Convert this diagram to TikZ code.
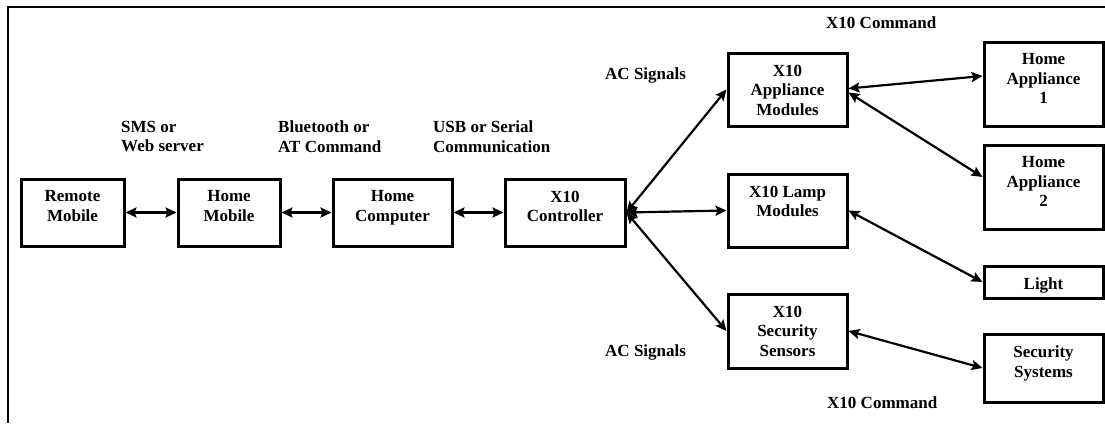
\documentclass[tikz,border=0pt]{standalone}
\usepackage{fontspec}
\setmainfont{Liberation Serif}
\usetikzlibrary{arrows.meta}
\begin{document}
\begin{tikzpicture}[x=1pt,y=-1pt,
  box/.style={draw, line width=3pt, inner sep=0pt},
  boxtxt/.style={font=\fontsize{17}{19.5}\selectfont\bfseries, align=center, inner sep=0pt, anchor=north},
  lbl/.style={font=\fontsize{17}{19.5}\selectfont\bfseries, align=left, inner sep=0pt, anchor=north west},
  arr/.style={line width=2.2pt, {Stealth[length=11pt,width=10pt,inset=2pt]}-{Stealth[length=11pt,width=10pt,inset=2pt]}}]
\useasboundingbox (0,0) rectangle (1105,423);
% frame
\draw[line width=2pt] (8,423) -- (8,7) -- (1105,7);
% left chain
\node[box, minimum width=103pt, minimum height=67pt] (rm) at (72.5,212.5) {};
\node[box, minimum width=102pt, minimum height=67pt] (hm) at (229,212.5) {};
\node[box, minimum width=119pt, minimum height=67pt] (hc) at (392.5,212.5) {};
\node[box, minimum width=120pt, minimum height=67pt] (ctrl) at (565,212.5) {};
% modules
\node[box, minimum width=119pt, minimum height=73pt] (appl) at (787.5,89.5) {};
\node[box, minimum width=119pt, minimum height=73pt] (lamp) at (787.5,210.5) {};
\node[box, minimum width=119pt, minimum height=74pt] (sens) at (787.5,331) {};
% devices
\node[box, minimum width=119pt, minimum height=84pt] (ha1) at (1043.5,84) {};
\node[box, minimum width=119pt, minimum height=84pt] (ha2) at (1043.5,187) {};
\node[box, minimum width=119pt, minimum height=32pt] (light) at (1043.5,282) {};
\node[box, minimum width=119pt, minimum height=68pt] (sec) at (1043.5,368) {};
% box texts
\node[boxtxt] (rmt) at ([yshift=-13pt]rm.north) {Remote\\Mobile};
\node[boxtxt] (hmt) at ([yshift=-13pt]hm.north) {Home\\Mobile};
\node[boxtxt] (hct) at ([yshift=-13pt]hc.north) {Home\\Computer};
\node[boxtxt] (ctrlt) at ([yshift=-13pt]ctrl.north) {X10\\Controller};
\node[boxtxt] (applt) at ([yshift=-13pt]appl.north) {X10\\Appliance\\Modules};
\node[boxtxt] (lampt) at ([yshift=-13pt]lamp.north) {X10 Lamp\\Modules};
\node[boxtxt] (senst) at ([yshift=-13pt]sens.north) {X10\\Security\\Sensors};
\node[boxtxt] (ha1t) at ([yshift=-13pt]ha1.north) {Home\\Appliance\\1};
\node[boxtxt] (ha2t) at ([yshift=-13pt]ha2.north) {Home\\Appliance\\2};
\node[boxtxt] (lightt) at ([yshift=-13pt]light.north) {Light};
\node[boxtxt] (sect) at ([yshift=-13pt]sec.north) {Security\\Systems};
% free labels
\node[lbl] (l1) at (121,121) {SMS or\\Web server};
\node[lbl] (l2) at (278,121) {Bluetooth or\\AT Command};
\node[lbl] (l3) at (433,121) {USB or Serial\\Communication};
\node[lbl] (l4) at (826,17) {X10 Command};
\node[lbl] (l5) at (827,396) {X10 Command};
\node[lbl] (l6) at (605,68) {AC Signals};
\node[lbl] (l7) at (605,344) {AC Signals};
% connectors
\draw[arr] (rm.east) -- (hm.west);
\draw[arr] (hm.east) -- (hc.west);
\draw[arr] (hc.east) -- (ctrl.west);
\draw[arr] (ctrl.east) -- (appl.west);
\draw[arr] (ctrl.east) -- (lamp.west);
\draw[arr] (ctrl.east) -- (sens.west);
\draw[arr] ([yshift=1pt]appl.east) -- ([yshift=8pt]ha1.west);
\draw[arr] ([yshift=-3pt]appl.east) -- ([yshift=10pt]ha2.west);
\draw[arr] (lamp.east) -- (light.west);
\draw[arr] (sens.east) -- (sec.west);
\end{tikzpicture}
\end{document}
